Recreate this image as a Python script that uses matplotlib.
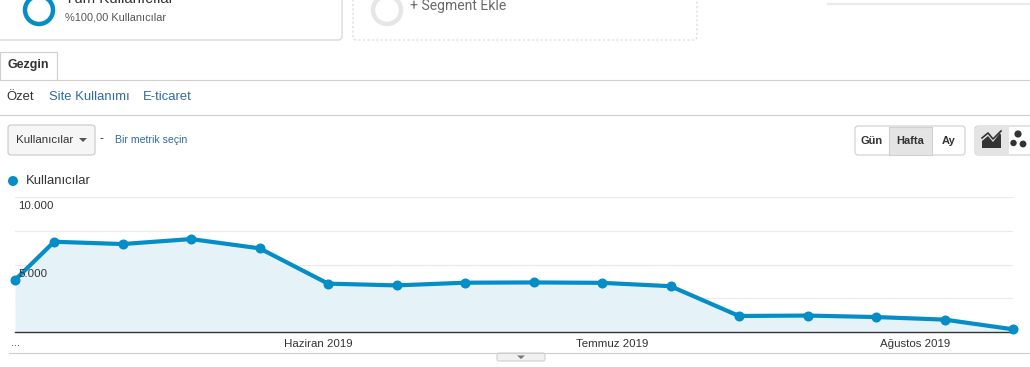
import datetime as dt
import matplotlib
matplotlib.use('Agg')
import matplotlib.pyplot as plt
from matplotlib.patches import FancyBboxPatch, Rectangle, Circle, Polygon

# weekly users (Google Analytics style)
dates = [dt.date(2019, 5, 1)] + [dt.date(2019, 5, 5) + dt.timedelta(weeks=i) for i in range(15)]
users = [3860, 6700, 6530, 6900, 6210, 3590, 3460, 3660, 3680, 3650, 3400,
         1190, 1220, 1110, 920, 200]
month_ticks = [dt.date(2019, 6, 1), dt.date(2019, 7, 1), dt.date(2019, 8, 1)]
month_labels = ['Haziran 2019', 'Temmuz 2019', 'Ağustos 2019']
y_labels = {10000: '10.000', 5000: '5.000'}

BLUE = '#058dc7'
FILL = '#e5f3f9'
LINK = '#2f6aa3'
GREY = '#cfcfcf'
W, H = 1030, 367

plt.rcParams['font.family'] = ['Liberation Sans', 'DejaVu Sans']
fig = plt.figure(figsize=(W / 100, H / 100), dpi=100)

# overlay in pixel coordinates for the surrounding UI
ui = fig.add_axes([0, 0, 1, 1])
ui.set_xlim(0, W)
ui.set_ylim(H, 0)
ui.axis('off')

def px(s):
    return s * 0.72

# segment cards
ui.add_patch(FancyBboxPatch((-6, -20), 348, 60, boxstyle='round,pad=0,rounding_size=4',
                            fc='white', ec='#dadada', lw=1))
ui.add_patch(Circle((39, 10), 14, fill=False, ec=BLUE, lw=3.2))
ui.text(65, -1, 'Tüm Kullanıcılar', fontsize=px(15), color='#333', va='center')
ui.text(65, 17, '%100,00 Kullanıcılar', fontsize=px(11), color='#555', va='center')
ui.add_patch(FancyBboxPatch((353, -20), 344, 60, boxstyle='round,pad=0,rounding_size=4',
                            fc='white', ec='#d8d8d8', lw=0.8, ls=(0, (2, 2))))
ui.add_patch(Circle((387, 10), 14, fill=False, ec='#e6e6e6', lw=3.2))
ui.text(410, 6, '+ Segment Ekle', fontsize=px(14), color='#6a6a6a', va='center',
        family='Roboto')
ui.plot([828, 1030], [4, 4], color='#ebebeb', lw=1.6)

# tab and navigation
ui.add_patch(Rectangle((0, 52), 57, 28, fc='white', ec=GREY, lw=0.8))
ui.plot([57, 1030], [79.5, 79.5], color=GREY, lw=0.8)
ui.text(7, 65, 'Gezgin', fontsize=px(12.5), fontweight='bold', color='#333', va='center')
ui.text(6, 97, 'Özet', fontsize=px(13), color='#333', va='center')
ui.text(49, 97, 'Site Kullanımı', fontsize=px(13), color=LINK, va='center')
ui.text(143, 97, 'E-ticaret', fontsize=px(13), color=LINK, va='center')
ui.plot([0, 1030], [114.5, 114.5], color=GREY, lw=0.8)

# metric selector
ui.add_patch(FancyBboxPatch((8, 125), 87, 30, boxstyle='round,pad=0,rounding_size=3',
                            fc='#f6f6f6', ec='#c8c8c8', lw=0.8))
ui.text(16, 140, 'Kullanıcılar', fontsize=px(11.5), color='#333', va='center')
ui.add_patch(Polygon([[79, 138], [87, 138], [83, 142]], fc='#555', ec='none'))
ui.text(99, 139, '-', fontsize=px(12), color='#333', va='center')
ui.text(115, 140, 'Bir metrik seçin', fontsize=px(10.5), color=LINK, va='center')

# period buttons
ui.add_patch(FancyBboxPatch((855, 126), 110, 29, boxstyle='round,pad=0,rounding_size=3',
                            fc='white', ec='#d0d0d0', lw=0.8))
ui.add_patch(Rectangle((889, 126.5), 43, 28, fc='#e4e4e4', ec='#d0d0d0', lw=0.8))
for x, lab in [(872, 'Gün'), (910.5, 'Hafta'), (948.5, 'Ay')]:
    ui.text(x, 140.5, lab, fontsize=px(11), fontweight='bold', color='#333',
            ha='center', va='center')
ui.add_patch(FancyBboxPatch((975, 126), 70, 29, boxstyle='round,pad=0,rounding_size=3',
                            fc='white', ec='#d0d0d0', lw=0.8))
ui.add_patch(Rectangle((975.5, 126.5), 33, 28, fc='#e4e4e4', ec='none'))
ui.add_patch(Polygon([[982, 148], [982, 141], [988, 136], [993, 142], [1000, 133],
                      [1001, 135], [1001, 148]], fc='#333', ec='none'))
ui.plot([982, 988, 993, 1001], [138, 133, 139, 131], color='#333', lw=1.2)
for cx, cy, r in [(1018, 134, 3.6), (1013.5, 143, 3.2), (1023, 144, 3.4)]:
    ui.add_patch(Circle((cx, cy), r, fc='#333', ec='none'))

# legend
ui.add_patch(Circle((13, 181), 5, fc=BLUE, ec='none'))
ui.text(26, 181, 'Kullanıcılar', fontsize=px(13), color='#333', va='center')

# bottom rule and toggle tab
ui.plot([9, 1030], [352.5, 352.5], color=GREY, lw=0.8)
ui.add_patch(FancyBboxPatch((497, 353), 48, 8, boxstyle='round,pad=0,rounding_size=2',
                            fc='#f1f1f1', ec='#d0d0d0', lw=0.8))
ui.add_patch(Polygon([[517, 355.5], [525, 355.5], [521, 359]], fc='#777', ec='none'))
ui.text(15, 343, '...', fontsize=px(11), color='#333', ha='center', va='center')

# main chart
left, right, top, bottom = 15, 1013, 197.3, 332
ax = fig.add_axes([left / W, 1 - bottom / H, (right - left) / W, (bottom - top) / H])
ax.patch.set_alpha(0)
ax.fill_between(dates, users, color=FILL, lw=0)
ax.plot(dates, users, color=BLUE, lw=3, marker='o', ms=6.2, clip_on=False,
        solid_joinstyle='round', zorder=3)
ax.set_xlim(dt.date(2019, 5, 1), dt.date(2019, 8, 11))
ax.set_ylim(0, 10000)
ax.set_yticks([2500, 5000, 7500, 10000])
ax.yaxis.grid(True, color='#ebebeb', lw=0.8)
ax.set_axisbelow(True)
ax.tick_params(left=False, bottom=False, labelleft=False)
ax.set_xticks(month_ticks)
ax.set_xticklabels(month_labels, fontsize=px(11.5), color='#333')
ax.tick_params(axis='x', pad=1.5)
for s in ['top', 'left', 'right']:
    ax.spines[s].set_visible(False)
ax.spines['bottom'].set_color('#333')
ax.spines['bottom'].set_linewidth(1)
for val, lab in y_labels.items():
    ax.text(0.003, val - 680, lab, transform=ax.get_yaxis_transform(),
            fontsize=px(11.5), color='#333', va='center', zorder=4)

fig.savefig('out.png', dpi=100)
